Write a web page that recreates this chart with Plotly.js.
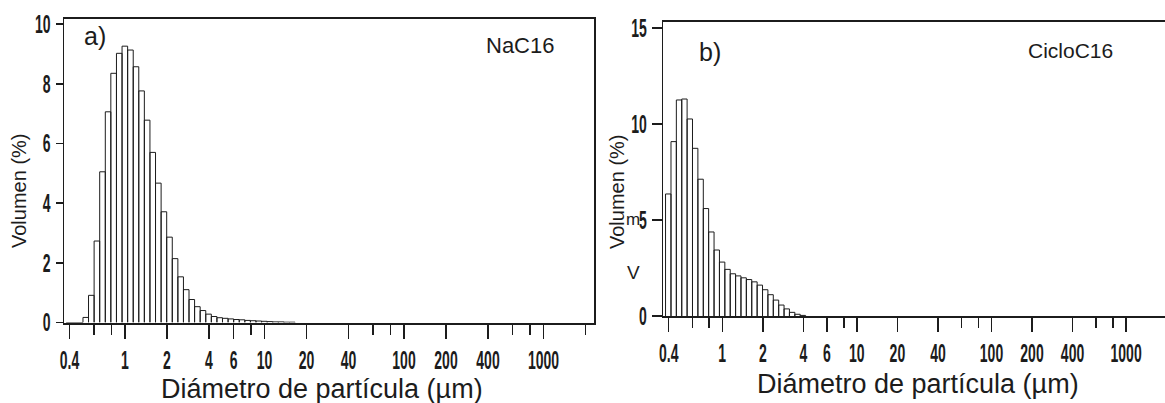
<!DOCTYPE html>
<html>
<head>
<meta charset="utf-8">
<script src="https://cdn.plot.ly/plotly-3.0.1.min.js"></script>
<style>html,body{margin:0;padding:0;background:#fff;}#chart{width:1165px;height:403px;}</style>
</head>
<body>
<div id="chart"></div>
<script>
// Bin edges of the particle-size classes (µm)
const binEdges = [0.379, 0.416, 0.456, 0.500, 0.548, 0.601, 0.659, 0.723, 0.792, 0.869,
  0.953, 1.045, 1.146, 1.256, 1.377, 1.510, 1.656, 1.816, 1.991, 2.183,
  2.394, 2.625, 2.878, 3.155, 3.460, 3.794, 4.160, 4.561, 5.001, 5.484,
  6.013, 6.593, 7.229, 7.927, 8.692, 9.531, 10.45, 11.46, 12.57, 13.78,
  15.11, 16.57];

// a) NaC16 volume (%) per class
const volNaC16 = [0, 0, 0, 0.17, 0.91, 2.73, 5.05, 7.06, 8.35, 9.02,
  9.26, 9.13, 8.57, 7.76, 6.78, 5.70, 4.67, 3.71, 2.86, 2.14,
  1.53, 1.10, 0.77, 0.53, 0.40, 0.28, 0.20, 0.16, 0.14, 0.12,
  0.10, 0.09, 0.07, 0.06, 0.05, 0.04, 0.03, 0.02, 0.02, 0.01, 0.01];

// b) CicloC16 volume (%) per class
const volCicloC16 = [6.36, 9.09, 11.26, 11.31, 10.27, 8.74, 7.13, 5.60, 4.38, 3.44,
  2.81, 2.43, 2.20, 2.09, 1.99, 1.90, 1.78, 1.61, 1.37, 1.11,
  0.83, 0.57, 0.37, 0.19, 0.09, 0.03];

const majorTicks = [0.4, 1, 2, 4, 6, 10, 20, 40, 100, 200, 400, 1000];
const majorTickText = ['0.4', '1', '2', '4', '6', '10', '20', '40', '100', '200', '400', '1000'];
const minorTicks = [0.6, 0.8, 8, 60, 80, 600, 800, 2000];
const yTicksA = [0, 2, 4, 6, 8, 10];
const yTicksB = [0, 5, 10, 15];

const xTitle = 'Diámetro de partícula (µm)';
const yTitle = 'Volumen (%)';

function barOutline(edges, vals) {
  const x = [], y = [];
  for (let i = 0; i < vals.length; i++) {
    x.push(edges[i], edges[i], edges[i + 1], edges[i + 1]);
    y.push(0, vals[i], vals[i], 0);
  }
  return {x: x, y: y};
}

const ink = '#1c1c1c';
const sans = '"Liberation Sans", Arial, sans-serif';

const a = barOutline(binEdges, volNaC16);
const b = barOutline(binEdges, volCicloC16);

const traces = [
  {type: 'scatter', mode: 'lines', x: a.x, y: a.y, xaxis: 'x', yaxis: 'y',
   line: {color: ink, width: 1}, hoverinfo: 'skip'},
  {type: 'scatter', mode: 'lines', x: b.x, y: b.y, xaxis: 'x2', yaxis: 'y2',
   line: {color: ink, width: 1}, hoverinfo: 'skip'}
];

const W = 1165, H = 403;
function px(xp) { return xp / W; }
function py(yp) { return 1 - yp / H; }

function xAxis(domain, range, anchor) {
  return {
    type: 'log', domain: domain, range: range, anchor: anchor,
    showgrid: false, zeroline: false, showline: true, linecolor: ink, linewidth: 2, mirror: true,
    tickmode: 'array', tickvals: majorTicks, ticktext: majorTickText, tickangle: 0,
    ticks: 'outside', ticklen: 14, tickwidth: 1.5, tickcolor: ink,
    tickfont: {family: sans, size: 25, color: ink, weight: 'bold'},
    minor: {tickmode: 'array', tickvals: minorTicks, ticks: 'outside', ticklen: 10, tickwidth: 1.5, tickcolor: ink, showgrid: false}
  };
}
function yAxis(domain, range, anchor, tv, tl, mirror) {
  return {
    domain: domain, range: range, anchor: anchor,
    showgrid: false, zeroline: false, showline: true, linecolor: ink, linewidth: 1.5, mirror: mirror,
    tickmode: 'array', tickvals: tv, tickangle: 0, ticks: 'outside', ticklen: tl, tickwidth: 1.5, tickcolor: ink,
    tickfont: {family: sans, size: 25, color: ink, weight: 'bold'}
  };
}

function ann(text, x, y, size, angle) {
  return {text: text, xref: 'paper', yref: 'paper', x: px(x), y: py(y),
    xanchor: 'center', yanchor: 'middle', showarrow: false, textangle: angle || 0,
    font: {family: sans, size: size, color: ink}};
}

const layout = {
  width: W, height: H,
  margin: {l: 0, r: 0, t: 0, b: 0},
  paper_bgcolor: '#ffffff', plot_bgcolor: '#ffffff',
  showlegend: false,
  xaxis: xAxis([px(64), px(594)], [-0.437, 3.362], 'y'),
  yaxis: yAxis([py(322.5), py(19)], [0, 10.17], 'x', yTicksA, 7, true),
  xaxis2: xAxis([px(663.3), 1], [-0.438, 3.289], 'y2'),
  yaxis2: yAxis([py(316), py(21.7)], [0, 15.34], 'x2', yTicksB, 10, false),
  annotations: [
    ann('a)', 95, 36, 25),
    ann('NaC16', 520, 46, 22),
    ann('b)', 710, 52, 25),
    ann('CicloC16', 1070, 51, 21),
    ann(yTitle, 19, 191, 20, -90),
    ann(yTitle, 617, 192, 20, -90),
    ann('m', 633, 219, 17),
    ann('V', 633, 272, 19),
    ann(xTitle, 322, 389, 27),
    ann(xTitle, 918, 384, 27)
  ]
};

Plotly.newPlot('chart', traces, layout, {staticPlot: true, displayModeBar: false}).then(function (gd) {
  // the scanned original uses a very condensed face for the tick numbers
  const sel = gd.querySelectorAll('g.xtick text, g.x2tick text, g.ytick text, g.y2tick text');
  sel.forEach(function (el) {
    const w = el.getComputedTextLength();
    el.setAttribute('lengthAdjust', 'spacingAndGlyphs');
    el.setAttribute('textLength', (w * 0.56).toFixed(2));
  });
});
</script>
</body>
</html>
